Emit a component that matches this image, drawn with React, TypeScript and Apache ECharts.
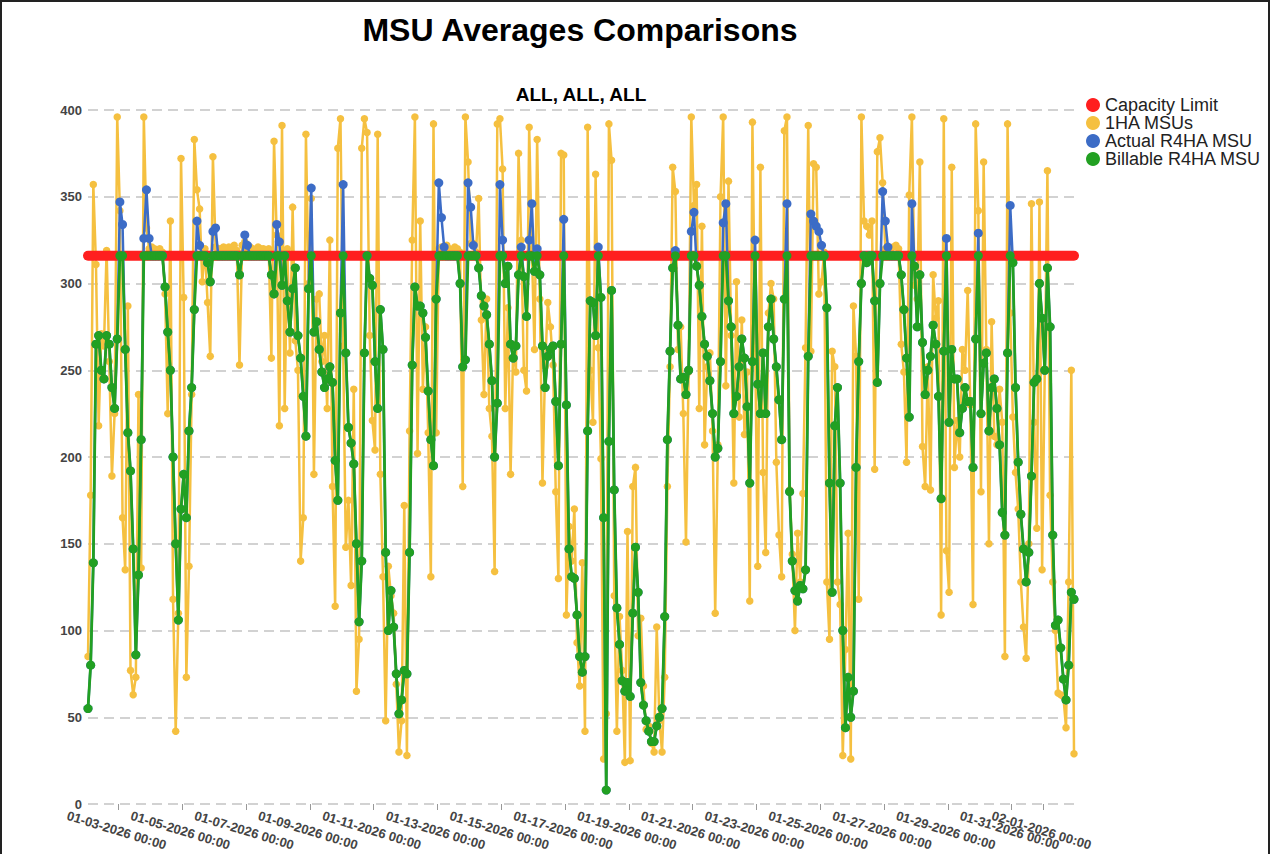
import React, { useEffect, useRef } from "react";
import * as echarts from "echarts";

// ---- data (2-hour samples starting 01-02-2026 01:00) ----
const START_UTC = Date.UTC(2026, 0, 2, 1, 0, 0);
const STEP_HOURS = 2;

const capacityLimit = 316;

const oneHourMSU = [
  85, 178, 357, 311, 218, 271, 264, 319, 255, 189, 225, 396,
  342, 165, 135, 287, 77, 63, 73, 236, 136, 396, 332, 320,
  321, 320, 319, 320, 318, 294, 225, 336, 118, 42, 110, 372,
  292, 73, 137, 236, 383, 354, 343, 301, 320, 289, 258, 373,
  321, 320, 320, 321, 320, 321, 320, 322, 319, 253, 322, 324,
  320, 321, 320, 319, 321, 320, 320, 318, 320, 257, 382, 328,
  218, 391, 228, 320, 260, 344, 267, 250, 140, 165, 386, 300,
  349, 190, 291, 294, 255, 270, 228, 325, 183, 114, 378, 395,
  264, 148, 175, 126, 239, 65, 95, 378, 395, 387, 270, 221,
  204, 386, 190, 131, 48, 137, 120, 110, 69, 30, 48, 172,
  28, 215, 325, 396, 202, 336, 239, 275, 214, 131, 392, 214,
  320, 321, 320, 322, 320, 319, 321, 320, 318, 183, 396, 370,
  323, 323, 318, 349, 279, 236, 291, 228, 212, 134, 392, 395,
  366, 228, 286, 190, 265, 249, 375, 325, 250, 238, 390, 320,
  262, 383, 291, 185, 252, 289, 275, 253, 180, 130, 375, 374,
  109, 160, 140, 170, 93, 68, 139, 42, 390, 250, 220, 363,
  263, 199, 26, 52, 392, 371, 120, 42, 108, 77, 24, 157,
  25, 183, 194, 97, 107, 68, 43, 45, 35, 30, 102, 48,
  30, 73, 183, 252, 367, 353, 262, 275, 225, 151, 249, 396,
  345, 357, 228, 333, 207, 252, 260, 215, 110, 207, 350, 396,
  241, 359, 270, 185, 301, 223, 279, 213, 249, 117, 393, 270,
  137, 367, 191, 145, 283, 300, 291, 197, 155, 131, 388, 396,
  181, 144, 100, 156, 128, 179, 263, 391, 261, 369, 367, 294,
  301, 318, 128, 95, 261, 252, 128, 115, 28, 89, 156, 26,
  287, 258, 118, 396, 336, 333, 328, 336, 193, 376, 384, 358,
  320, 321, 320, 321, 322, 320, 265, 249, 197, 351, 396, 299,
  291, 370, 206, 183, 252, 181, 305, 280, 290, 109, 395, 146,
  122, 367, 194, 221, 200, 262, 250, 296, 230, 115, 392, 342,
  180, 370, 262, 150, 278, 212, 207, 239, 220, 85, 392, 283,
  223, 191, 170, 128, 102, 84, 150, 346, 220, 159, 347, 135,
  250, 365, 178, 128, 100, 64, 63, 62, 44, 128, 250, 29,
];

const actualR4HA = [
  55, 80, 139, 265, 270, 250, 245, 270, 265, 240, 228, 268,
  347, 334, 262, 214, 192, 147, 86, 132, 210, 326, 354, 326,
  316, 316, 316, 316, 316, 298, 272, 250, 200, 150, 106, 170,
  190, 165, 215, 240, 285, 336, 322, 316, 316, 312, 301, 330,
  332, 316, 316, 316, 316, 316, 316, 316, 316, 305, 316, 328,
  322, 316, 316, 316, 316, 316, 316, 316, 316, 305, 294, 334,
  324, 299, 316, 290, 272, 297, 309, 270, 257, 235, 212, 297,
  355, 272, 278, 262, 249, 240, 245, 252, 243, 198, 175, 283,
  357, 260, 217, 208, 196, 150, 105, 140, 260, 316, 303, 299,
  255, 228, 285, 262, 145, 100, 123, 102, 75, 52, 60, 77,
  75, 145, 253, 298, 287, 287, 283, 269, 238, 210, 195, 291,
  358, 338, 321, 316, 316, 316, 316, 316, 300, 252, 256, 358,
  344, 322, 316, 309, 293, 287, 282, 265, 244, 200, 231, 357,
  325, 300, 310, 265, 257, 264, 305, 321, 304, 281, 325, 346,
  307, 320, 305, 264, 240, 258, 262, 264, 232, 195, 265, 337,
  230, 147, 131, 130, 109, 85, 76, 85, 215, 290, 289, 270,
  321, 292, 165, 8, 209, 296, 181, 113, 92, 71, 65, 70,
  62, 110, 148, 122, 70, 57, 48, 42, 36, 36, 45, 50,
  55, 108, 210, 261, 309, 319, 276, 245, 246, 236, 250, 330,
  341, 310, 299, 281, 265, 258, 244, 225, 200, 205, 255, 335,
  346, 290, 275, 225, 235, 252, 268, 257, 229, 185, 255, 325,
  242, 225, 260, 225, 275, 291, 268, 252, 233, 210, 291, 346,
  180, 140, 123, 117, 126, 124, 135, 258, 340, 336, 333, 330,
  322, 316, 286, 185, 122, 218, 240, 185, 100, 44, 73, 50,
  65, 194, 255, 300, 316, 312, 316, 316, 290, 243, 300, 353,
  336, 321, 316, 316, 316, 316, 305, 285, 257, 223, 346, 310,
  275, 305, 266, 236, 250, 258, 276, 265, 235, 176, 261, 326,
  220, 262, 245, 245, 214, 228, 240, 232, 232, 194, 268, 329,
  225, 254, 260, 215, 240, 245, 228, 207, 168, 155, 260, 345,
  312, 240, 197, 167, 147, 128, 145, 189, 243, 245, 300, 280,
  250, 309, 275, 155, 103, 106, 90, 72, 60, 80, 122, 118,
];

const billableR4HA = [
  55, 80, 139, 265, 270, 250, 245, 270, 265, 240, 228, 268,
  316, 316, 262, 214, 192, 147, 86, 132, 210, 316, 316, 316,
  316, 316, 316, 316, 316, 298, 272, 250, 200, 150, 106, 170,
  190, 165, 215, 240, 285, 316, 316, 316, 316, 312, 301, 316,
  316, 316, 316, 316, 316, 316, 316, 316, 316, 305, 316, 316,
  316, 316, 316, 316, 316, 316, 316, 316, 316, 305, 294, 316,
  316, 299, 316, 290, 272, 297, 309, 270, 257, 235, 212, 297,
  316, 272, 278, 262, 249, 240, 245, 252, 243, 198, 175, 283,
  316, 260, 217, 208, 196, 150, 105, 140, 260, 316, 303, 299,
  255, 228, 285, 262, 145, 100, 123, 102, 75, 52, 60, 77,
  75, 145, 253, 298, 287, 287, 283, 269, 238, 210, 195, 291,
  316, 316, 316, 316, 316, 316, 316, 316, 300, 252, 256, 316,
  316, 316, 316, 309, 293, 287, 282, 265, 244, 200, 231, 316,
  316, 300, 310, 265, 257, 264, 305, 316, 304, 281, 316, 316,
  307, 316, 305, 264, 240, 258, 262, 264, 232, 195, 265, 316,
  230, 147, 131, 130, 109, 85, 76, 85, 215, 290, 289, 270,
  316, 292, 165, 8, 209, 296, 181, 113, 92, 71, 65, 70,
  62, 110, 148, 122, 70, 57, 48, 42, 36, 36, 45, 50,
  55, 108, 210, 261, 309, 316, 276, 245, 246, 236, 250, 316,
  316, 310, 299, 281, 265, 258, 244, 225, 200, 205, 255, 316,
  316, 290, 275, 225, 235, 252, 268, 257, 229, 185, 255, 316,
  242, 225, 260, 225, 275, 291, 268, 252, 233, 210, 291, 316,
  180, 140, 123, 117, 126, 124, 135, 258, 316, 316, 316, 316,
  316, 316, 286, 185, 122, 218, 240, 185, 100, 44, 73, 50,
  65, 194, 255, 300, 316, 312, 316, 316, 290, 243, 300, 316,
  316, 316, 316, 316, 316, 316, 305, 285, 257, 223, 316, 310,
  275, 305, 266, 236, 250, 258, 276, 265, 235, 176, 261, 316,
  220, 262, 245, 245, 214, 228, 240, 232, 232, 194, 268, 316,
  225, 254, 260, 215, 240, 245, 228, 207, 168, 155, 260, 316,
  312, 240, 197, 167, 147, 128, 145, 189, 243, 245, 300, 280,
  250, 309, 275, 155, 103, 106, 90, 72, 60, 80, 122, 118,
];

// every-other-day ticks, plus the final month tick (drawn on its own axis so it may overlap)
const xTickLabels = [
  "01-03-2026 00:00", "01-05-2026 00:00", "01-07-2026 00:00", "01-09-2026 00:00",
  "01-11-2026 00:00", "01-13-2026 00:00", "01-15-2026 00:00", "01-17-2026 00:00",
  "01-19-2026 00:00", "01-21-2026 00:00", "01-23-2026 00:00", "01-25-2026 00:00",
  "01-27-2026 00:00", "01-29-2026 00:00", "01-31-2026 00:00",
];
const xExtraTickLabels = ["02-01-2026 00:00"];

const seriesNames = ["Capacity Limit", "1HA MSUs", "Actual R4HA MSU", "Billable R4HA MSU"];
const seriesColors = ["#ff1f1f", "#f5c040", "#3c6cc6", "#22a022"];

const FONT = '"Liberation Sans", Arial, Helvetica, sans-serif';

// hours elapsed since START_UTC for a "MM-DD-YYYY HH:mm" label
function labelToHours(label: string): number {
  const [datePart, timePart] = label.split(" ");
  const [mm, dd, yyyy] = datePart.split("-").map(Number);
  const [hh, mi] = timePart.split(":").map(Number);
  return (Date.UTC(yyyy, mm - 1, dd, hh, mi, 0) - START_UTC) / 3600000;
}

export default function App() {
  const ref = useRef<HTMLDivElement>(null);

  useEffect(() => {
    if (!ref.current) return;
    const chart = echarts.init(ref.current, undefined, { renderer: "svg" });

    const hours = oneHourMSU.map((_, i) => i * STEP_HOURS);
    const pair = (arr: number[]) => arr.map((v, i) => [hours[i], v]);

    const makeXAxis = (labels: string[], show: boolean) => {
      const tickHours = labels.map(labelToHours);
      const labelFor = (v: number) => {
        const k = tickHours.findIndex((t) => Math.abs(t - v) < 1e-6);
        return k >= 0 ? labels[k] : "";
      };
      return {
        type: "value",
        position: "bottom",
        show,
        min: 0,
        max: hours[hours.length - 1],
        axisLine: { show: false },
        axisTick: {
          show: true,
          customValues: tickHours,
          length: 6,
          lineStyle: { color: "#999", width: 1 },
        },
        axisLabel: {
          customValues: tickHours,
          formatter: (v: number) => labelFor(v),
          rotate: -17,
          align: "center",
          verticalAlign: "top",
          margin: 20,
          fontSize: 13,
          fontWeight: "bold",
          color: "#444",
          hideOverlap: false,
          showMinLabel: true,
          showMaxLabel: true,
        },
        splitLine: { show: false },
      };
    };

    const option: any = {
      animation: false,
      backgroundColor: "#ffffff",
      textStyle: { fontFamily: FONT },
      graphic: [
        {
          type: "text",
          x: 580,
          y: 30,
          silent: true,
          style: {
            text: "MSU Averages Comparisons",
            fill: "#000",
            font: `bold 32px ${FONT}`,
            align: "center",
            verticalAlign: "middle",
          },
        },
        {
          type: "text",
          x: 581,
          y: 94,
          silent: true,
          style: {
            text: "ALL, ALL, ALL",
            fill: "#000",
            font: `bold 19px ${FONT}`,
            align: "center",
            verticalAlign: "middle",
          },
        },
      ],
      legend: {
        data: seriesNames,
        orient: "vertical",
        left: 1081,
        top: 91,
        icon: "circle",
        itemWidth: 14,
        itemHeight: 14,
        itemGap: 0,
        selectedMode: false,
        textStyle: { fontSize: 18, color: "#222", lineHeight: 17.6, fontFamily: FONT },
      },
      grid: { left: 88, right: 196, top: 110, bottom: 50, containLabel: false },
      xAxis: [makeXAxis(xTickLabels, true), makeXAxis(xExtraTickLabels, true)],
      yAxis: {
        type: "value",
        min: 0,
        max: 400,
        interval: 50,
        axisLine: { show: false },
        axisTick: { show: false },
        axisLabel: { fontSize: 13, fontWeight: "bold", color: "#444", margin: 6 },
        splitLine: { lineStyle: { type: [10, 6], color: "#c4c4c4", width: 1.5 } },
      },
      series: [
        {
          name: seriesNames[0],
          type: "line",
          xAxisIndex: 0,
          z: 3,
          color: seriesColors[0],
          data: [[hours[0], capacityLimit], [hours[hours.length - 1], capacityLimit]],
          showSymbol: false,
          lineStyle: { width: 10, cap: "round", color: seriesColors[0] },
          emphasis: { disabled: true },
        },
        {
          name: seriesNames[1],
          type: "line",
          xAxisIndex: 0,
          z: 2,
          color: seriesColors[1],
          data: pair(oneHourMSU),
          symbol: "circle",
          symbolSize: 7.5,
          showAllSymbol: true,
          lineStyle: { width: 2.5, color: seriesColors[1] },
          itemStyle: { color: seriesColors[1] },
          emphasis: { disabled: true },
        },
        {
          name: seriesNames[2],
          type: "line",
          xAxisIndex: 0,
          z: 4,
          color: seriesColors[2],
          data: pair(actualR4HA),
          symbol: "circle",
          symbolSize: 9,
          showAllSymbol: true,
          lineStyle: { width: 2.5, color: seriesColors[2] },
          itemStyle: { color: seriesColors[2] },
          emphasis: { disabled: true },
        },
        {
          name: seriesNames[3],
          type: "line",
          xAxisIndex: 0,
          z: 5,
          color: seriesColors[3],
          data: pair(billableR4HA),
          symbol: "circle",
          symbolSize: 9,
          showAllSymbol: true,
          lineStyle: { width: 2.8, color: seriesColors[3] },
          itemStyle: { color: seriesColors[3] },
          emphasis: { disabled: true },
        },
      ],
    };

    chart.setOption(option);
    return () => chart.dispose();
  }, []);

  return (
    <div style={{ position: "fixed", left: 0, top: 0, width: 1270, height: 854, background: "#fff" }}>
      <div ref={ref} style={{ position: "absolute", left: 0, top: 0, width: 1270, height: 854 }} />
      <div
        style={{
          position: "absolute",
          left: 0,
          top: 0,
          width: 1270,
          height: 854,
          boxSizing: "border-box",
          borderTop: "2px solid #222",
          borderLeft: "2px solid #222",
          borderRight: "2px solid #222",
          pointerEvents: "none",
        }}
      />
    </div>
  );
}
